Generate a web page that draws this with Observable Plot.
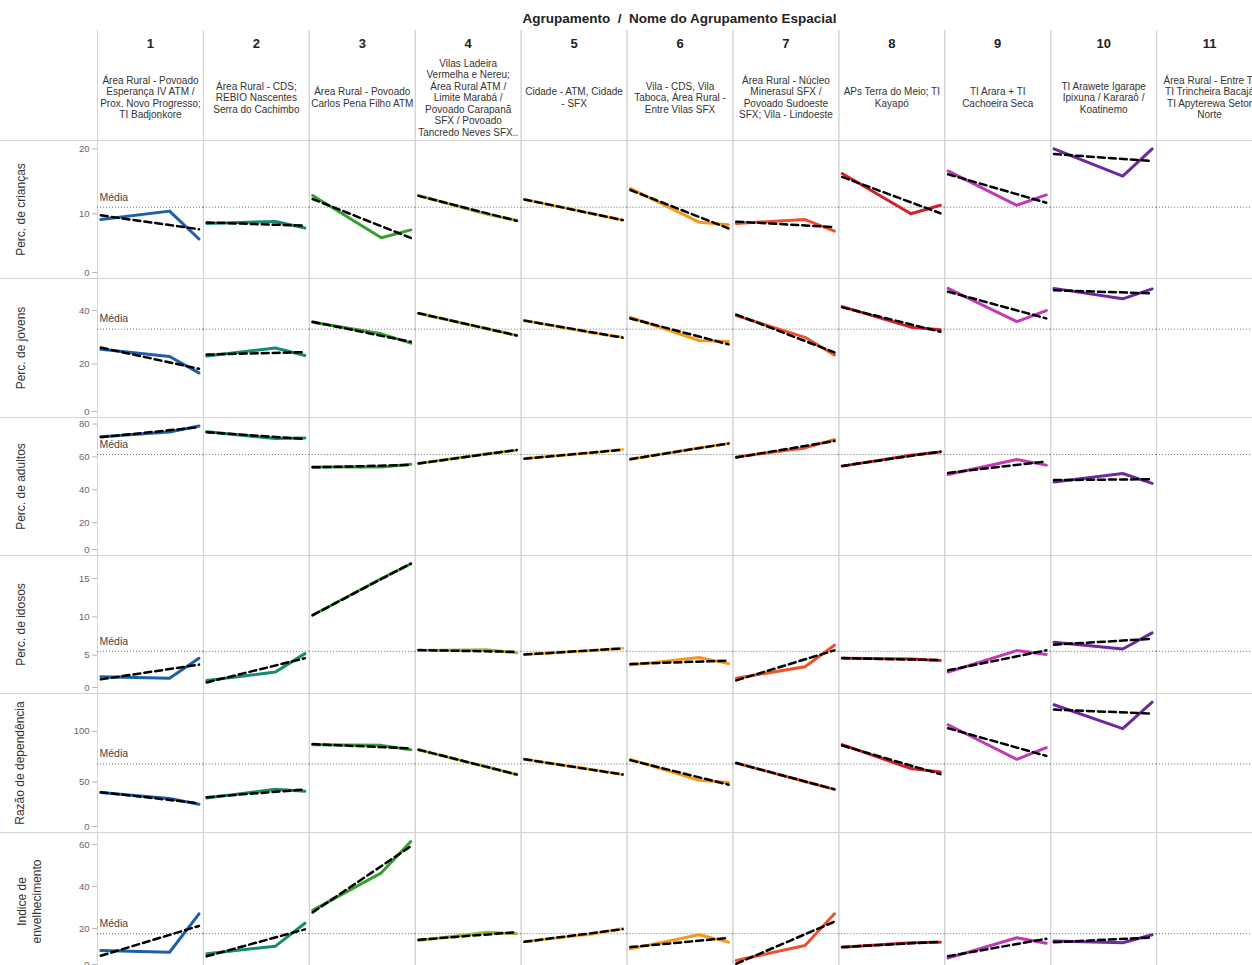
<!DOCTYPE html>
<html lang="pt">
<head>
<meta charset="utf-8">
<script src="https://cdn.jsdelivr.net/npm/d3@7"></script>
<script src="https://cdn.jsdelivr.net/npm/@observablehq/plot@0.6"></script>
<style>
  html, body { margin: 0; padding: 0; background: #fff; overflow: hidden; }
  body { font-family: "Liberation Sans", Arial, sans-serif; }
  #chart { position: relative; width: 1262px; height: 970px; }
  .title { position: absolute; top: 11px; left: 97px; width: 1165px; text-align: center;
           font-weight: bold; font-size: 13.5px; color: #222; }
  .hline { position: absolute; left: 0; width: 1262px; height: 1px; background: #d3d3d3; z-index: 2; }
</style>
</head>
<body>
<div id="chart">
  <div class="title">Agrupamento&nbsp; / &nbsp;Nome do Agrupamento Espacial</div>
</div>
<script>
// Spatial groupings (columns) and their names
const columns = [1, 2, 3, 4, 5, 6, 7, 8, 9, 10, 11];
const columnNames = [
  "Área Rural - Povoado\nEsperança IV ATM /\nProx. Novo Progresso;\nTI Badjonkore",
  "Área Rural - CDS;\nREBIO Nascentes\nSerra do Cachimbo",
  "Área Rural - Povoado\nCarlos Pena Filho ATM",
  "Vilas Ladeira\nVermelha e Nereu;\nÁrea Rural ATM /\nLimite Marabá /\nPovoado Carapanã\nSFX / Povoado\nTancredo Neves SFX..",
  "Cidade - ATM, Cidade\n- SFX",
  "Vila - CDS, Vila\nTaboca, Área Rural -\nEntre Vilas SFX",
  "Área Rural - Núcleo\nMinerasul SFX /\nPovoado Sudoeste\nSFX; Vila - Lindoeste",
  "APs Terra do Meio; TI\nKayapó",
  "TI Arara + TI\nCachoeira Seca",
  "TI Arawete Igarape\nIpixuna / Kararaô /\nKoatinemo",
  "Área Rural - Entre TI\nTI Trincheira Bacajá\nTI Apyterewa Setor\nNorte"
];

// Survey years (three observations per grouping)
const years = [2010, 2017, 2020];

// Indicator values per grouping (groupings 1–10; 11 has no observations)
const criancas = [
  [9.1, 10.4, 6.1], [8.5, 8.8, 7.8], [12.8, 6.3, 7.5], [12.8, 9.9, 9.0], [12.2, 10.0, 9.0],
  [13.9, 8.7, 8.3], [8.5, 9.1, 7.3], [16.2, 10.0, 11.3], [16.6, 11.3, 12.9], [20.0, 15.8, 20.0]
];
const jovens = [
  [25.5, 22.8, 16.7], [23.0, 26.0, 23.2], [35.6, 31.3, 27.8], [39.0, 33.2, 30.7], [36.3, 31.6, 30.0],
  [37.5, 28.8, 28.4], [38.1, 30.0, 23.4], [41.5, 33.8, 32.8], [48.3, 35.9, 40.0], [48.3, 44.4, 48.1]
];
const adultos = [
  [72.3, 75.2, 78.8], [75.3, 71.2, 71.5], [53.9, 53.9, 55.6], [56.0, 62.0, 64.1], [59.0, 62.5, 64.5],
  [58.6, 65.5, 68.1], [60.0, 65.5, 70.5], [54.4, 61.0, 63.0], [49.3, 58.4, 55.0], [44.8, 49.9, 43.9]
];
const idosos = [
  [2.2, 2.0, 4.6], [1.7, 2.8, 5.2], [10.2, 15.0, 16.9], [5.6, 5.7, 5.3], [5.1, 5.6, 5.9],
  [3.7, 4.7, 3.9], [2.0, 3.5, 6.3], [4.6, 4.5, 4.3], [2.8, 5.6, 5.1], [6.7, 5.8, 7.9]
];
const dependencia = [
  [39.5, 33.6, 27.9], [34.2, 42.7, 40.8], [86.9, 86.2, 81.9], [81.9, 64.8, 57.3], [72.4, 62.0, 57.3],
  [72.4, 51.6, 49.4], [68.7, 50.5, 42.7], [86.9, 63.2, 59.8], [106.6, 72.4, 83.9], [126.4, 102.7, 128.9]
];
const envelhecimento = [
  [9.5, 8.7, 27.0], [8.0, 11.6, 22.5], [28.6, 46.5, 61.4], [14.3, 18.2, 17.5], [13.8, 17.4, 20.0],
  [10.3, 17.0, 13.5], [4.8, 11.9, 27.0], [11.1, 13.2, 13.5], [5.9, 15.6, 13.0], [14.0, 13.2, 17.0]
];

// Axis tick values per indicator
const ticksCriancas = [0, 10, 20];
const ticksJovens = [0, 20, 40];
const ticksAdultos = [0, 20, 40, 60, 80];
const ticksIdosos = [0, 5, 10, 15];
const ticksDependencia = [0, 50, 100];
const ticksEnvelhecimento = [0, 20, 40, 60];

// One colour per grouping
const palette = ["#1f5fa9", "#178a72", "#35a032", "#93bb3a", "#f5b540", "#f7981d",
                 "#f0512b", "#d31f2b", "#c13cb4", "#6d2a9e", "#888888"];

const FONT = "'Liberation Sans', Arial, sans-serif";
const W = 1262, LEFT = 97;
const chart = document.getElementById("chart");

function place(node, top, height) {
  const div = document.createElement("div");
  div.style.cssText = `position:absolute;left:0;top:${top}px;width:${W}px;height:${height}px;`;
  div.appendChild(node);
  chart.appendChild(div);
}
function hline(top) {
  const div = document.createElement("div");
  div.className = "hline";
  div.style.top = top + "px";
  chart.appendChild(div);
}

// Column header: grouping number and name
const header = columns.map((col, i) => ({col, num: String(col), name: columnNames[i]}));
place(Plot.plot({
  width: W, height: 110, marginLeft: LEFT, marginRight: 0, marginTop: 0, marginBottom: 0,
  style: {fontFamily: FONT, background: "transparent", maxWidth: "none"},
  fx: {domain: columns, axis: null, padding: 0, round: false},
  marks: [
    Plot.frame({stroke: "#d3d3d3", insetTop: -6, insetBottom: -6}),
    Plot.text(header, {fx: "col", text: "num", frameAnchor: "top", dy: 8, fontSize: 13, fontWeight: "bold", fill: "#222"}),
    Plot.text(header, {fx: "col", text: "name", frameAnchor: "middle", dy: 12, fontSize: 10, lineHeight: 1.15, fill: "#333"})
  ]
}), 30, 110);

// Indicator rows
const rows = [
  {label: "Perc. de crianças", values: criancas, domain: [0, 21.3], ticks: ticksCriancas, labelDx: -77},
  {label: "Perc. de jovens", values: jovens, domain: [0, 52], ticks: ticksJovens, labelDx: -77},
  {label: "Perc. de adultos", values: adultos, domain: [0, 84], ticks: ticksAdultos, labelDx: -77},
  {label: "Perc. de idosos", values: idosos, domain: [0, 18], ticks: ticksIdosos, labelDx: -77},
  {label: "Razão de dependência", values: dependencia, domain: [0, 137.5], ticks: ticksDependencia, labelDx: -78},
  {label: "Indice de\nenvelhecimento", values: envelhecimento, domain: [0, 65.7], ticks: ticksEnvelhecimento, labelDx: -69}
];
const rowTops = [140, 278, 417, 555, 693, 832];
const rowHeights = [138, 139, 138, 138, 139, 138];

function rowPlot(row, height) {
  const data = row.values.flatMap((vals, i) => vals.map((value, j) => ({col: columns[i], year: years[j], value})));
  const mean = d3.mean(data, d => d.value);
  const meanRule = columns.map(col => ({col, value: mean}));
  const first = columns[0];
  const axisStyle = {fontSize: 9.5, fill: "#666", stroke: "#b8b8b8", tickSize: 5, tickPadding: 3, label: null};
  return Plot.plot({
    width: W, height, marginLeft: LEFT, marginRight: 0, marginTop: 0, marginBottom: 0,
    style: {fontFamily: FONT, background: "transparent", overflow: "visible", maxWidth: "none"},
    fx: {domain: columns, axis: null, padding: 0, round: false},
    x: {axis: null, insetLeft: 3.3, insetRight: 4.4},
    y: {domain: row.domain, label: null},
    color: {type: "ordinal", domain: columns, range: palette},
    marks: [
      Plot.frame({stroke: "#d3d3d3"}),
      Plot.ruleY(meanRule, {fx: "col", y: "value", stroke: "#6b6b6b", strokeWidth: 1, strokeDasharray: "1,2"}),
      Plot.text(meanRule.filter(d => d.col === first), {
        fx: "col", y: "value", text: () => "Média", frameAnchor: "left",
        textAnchor: "start", dx: 2, dy: -10, fontSize: 10.5, fill: "#444"
      }),
      Plot.line(data, {fx: "col", x: "year", y: "value", stroke: "col", strokeWidth: 3}),
      Plot.linearRegressionY(data, {
        fx: "col", x: "year", y: "value", stroke: "#000", strokeWidth: 2.5,
        strokeDasharray: "7,4", ci: 0
      }),
      Plot.axisY({...axisStyle, ticks: row.ticks.filter(t => t !== 0)}),
      Plot.axisY({...axisStyle, ticks: row.ticks.filter(t => t === 0), dy: -6}),
      Plot.text([row.label], {
        fx: () => first, text: d => d, frameAnchor: "left", textAnchor: "middle", dx: row.labelDx,
        rotate: -90, fontSize: 12, lineHeight: 1.25, fill: "#333"
      })
    ]
  });
}

rows.forEach((row, i) => {
  place(rowPlot(row, rowHeights[i]), rowTops[i], rowHeights[i]);
  hline(rowTops[i]);
});
</script>
</body>
</html>
